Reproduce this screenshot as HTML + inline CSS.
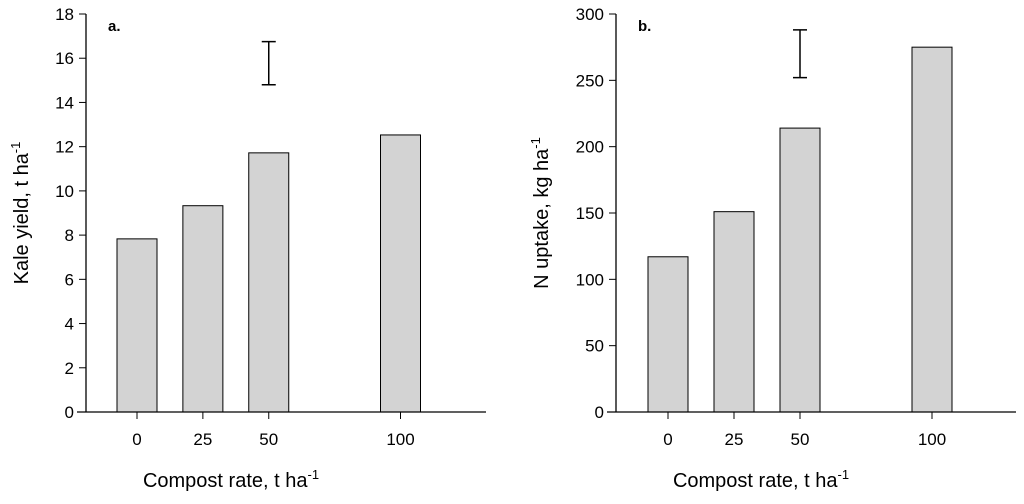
<!DOCTYPE html>
<html><head><meta charset="utf-8"><style>
body{margin:0;background:#fff;width:1024px;height:499px;overflow:hidden}
text{font-family:"Liberation Sans",Arial,sans-serif;fill:#000}
</style></head><body>
<svg id="svg" width="1024" height="499"></svg>
<script>
const categories=[0,25,50,100];
const yieldValues=[7.83,9.33,11.72,12.53];
const uptakeValues=[117,151,214,275];
const yieldTicks=[0,2,4,6,8,10,12,14,16,18];
const uptakeTicks=[0,50,100,150,200,250,300];
const yieldErr=[14.8,16.75];
const uptakeErr=[252,288];
const svg=document.getElementById('svg');
const NS='http://www.w3.org/2000/svg';
function mk(t,a,p){const e=document.createElementNS(NS,t);for(const k in a)e.setAttribute(k,a[k]);(p||svg).appendChild(e);return e;}
function panel(o){
 const g=mk('g',{});
 
 
 const x0=o.ax,yTop=14,yBot=412;
 const xs=v=>o.bx0+(v-0)*(o.bx100-o.bx0)/100;
 const ys=v=>yBot-(v/o.ymax)*(yBot-yTop);
 const bw=40;
 o.vals.forEach((v,i)=>{
  const r=mk('rect',{x:xs(categories[i])-bw/2,y:ys(v),width:bw,height:yBot-ys(v),fill:'#d3d3d3',stroke:'#000','stroke-width':1},g);
  
  
 });
 const ya=mk('line',{x1:x0,y1:yTop,x2:x0,y2:yBot,stroke:'#000','stroke-width':1.3},g);
 
 const xa=mk('line',{x1:x0-9,y1:yBot,x2:x0+400,y2:yBot,stroke:'#000','stroke-width':1.3},g);
 
 o.ticks.forEach(t=>{
  mk('line',{x1:x0-7,y1:ys(t),x2:x0,y2:ys(t),stroke:'#000','stroke-width':1},g);
  const tx=mk('text',{x:x0-12,y:ys(t)+6,'text-anchor':'end','font-size':17},g);tx.textContent=t;
  
 });
 categories.forEach(c=>{
  mk('line',{x1:xs(c),y1:yBot,x2:xs(c),y2:yBot+7,stroke:'#000','stroke-width':1},g);
  const tx=mk('text',{x:xs(c),y:445,'text-anchor':'middle','font-size':17},g);tx.textContent=c;
  
 });
 const ex=xs(50);
 const eb=mk('path',{d:`M${ex-7},${ys(o.err[0])}H${ex+7}M${ex},${ys(o.err[0])}V${ys(o.err[1])}M${ex-7},${ys(o.err[1])}H${ex+7}`,stroke:'#000','stroke-width':1.5,fill:'none'},g);
 
 const lb=mk('text',{x:x0+22,y:31,'font-size':15,'font-weight':'bold'},g);lb.textContent=o.label;
 
 const xt=mk('text',{x:x0+145,y:487,'text-anchor':'middle','font-size':20},g);
 xt.innerHTML='Compost rate, t ha<tspan dy="-8" font-size="13">-1</tspan>';
 
 const yt=mk('text',{transform:`translate(${o.ytx},213) rotate(-90)`,'text-anchor':'middle','font-size':20},g);
 yt.innerHTML=o.ytitle;
 
}
panel({name:'panel-a-kale-yield',ax:86,bx0:137,bx100:400.5,ymax:18,vals:yieldValues,ticks:yieldTicks,err:yieldErr,label:'a.',ytx:28,ytitle:'Kale yield, t ha<tspan dy="-8" font-size="13">-1</tspan>'});
panel({name:'panel-b-n-uptake',ax:616,bx0:668,bx100:932,ymax:300,vals:uptakeValues,ticks:uptakeTicks,err:uptakeErr,label:'b.',ytx:548,ytitle:'N uptake, kg ha<tspan dy="-8" font-size="13">-1</tspan>'});
</script>
</body></html>
